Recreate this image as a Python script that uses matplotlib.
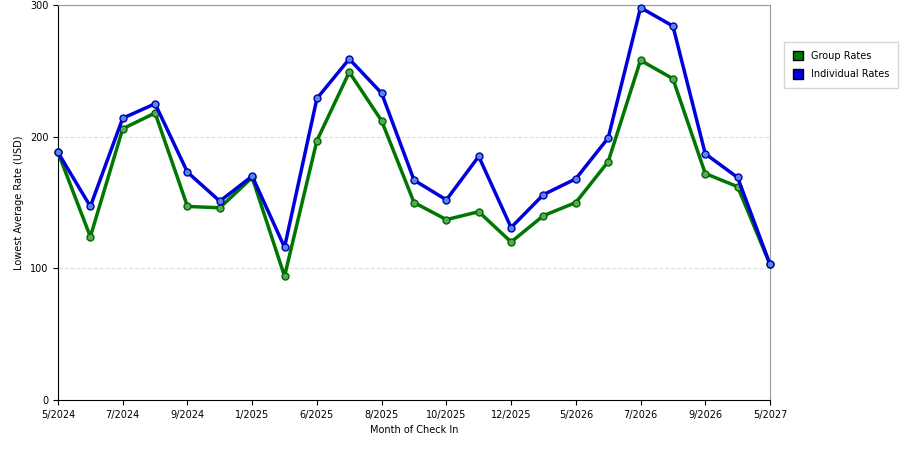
import matplotlib
matplotlib.use("Agg")
import matplotlib.pyplot as plt
from matplotlib.patches import Patch

tick_labels = ["5/2024","7/2024","9/2024","1/2025","6/2025","8/2025","10/2025","12/2025","5/2026","7/2026","9/2026","5/2027"]
group = [188,124,206,218,147,146,169,94,197,249,212,150,137,143,120,140,150,181,258,244,172,162,103]
indiv = [188,147,214,225,173,151,170,116,229,259,233,167,152,185,131,156,168,199,298,284,187,169,103]

fig = plt.figure(figsize=(9,4.5), dpi=100)
ax = fig.add_axes([58/900, 50/450, 712/900, 395/450])
x = list(range(len(group)))
ax.plot(x, group, color="#007700", lw=2.5, marker="o", ms=5, mfc="#55aa55", mec="#006600", zorder=3, clip_on=False)
ax.plot(x, indiv, color="#0000dd", lw=2.5, marker="o", ms=5, mfc="#5588ee", mec="#0000aa", zorder=4, clip_on=False)
ax.set_xlim(0, 22)
ax.set_ylim(0, 300)
ax.set_xticks(range(0, 23, 2))
ax.set_xticklabels(tick_labels, fontsize=7)
ax.set_yticks([0,100,200,300])
ax.tick_params(axis='y', labelsize=7)
ax.grid(axis='y', ls='--', color='#dddddd', lw=0.8)
ax.spines['top'].set_color('#999999')
ax.spines['right'].set_color('#999999')
ax.set_xlabel("Month of Check In", fontsize=7)
ax.set_ylabel("Lowest Average Rate (USD)", fontsize=7)
handles = [Patch(facecolor="#007700", edgecolor="black", label="Group Rates"),
           Patch(facecolor="#0000dd", edgecolor="black", label="Individual Rates")]
fig.legend(handles=handles, loc="upper left", bbox_to_anchor=(779/900, 1-37/450),
           fontsize=7, fancybox=False, edgecolor="#cccccc", handlelength=1.1, handleheight=1.1,
           labelspacing=0.9, borderpad=0.9)
fig.savefig("out.png")
